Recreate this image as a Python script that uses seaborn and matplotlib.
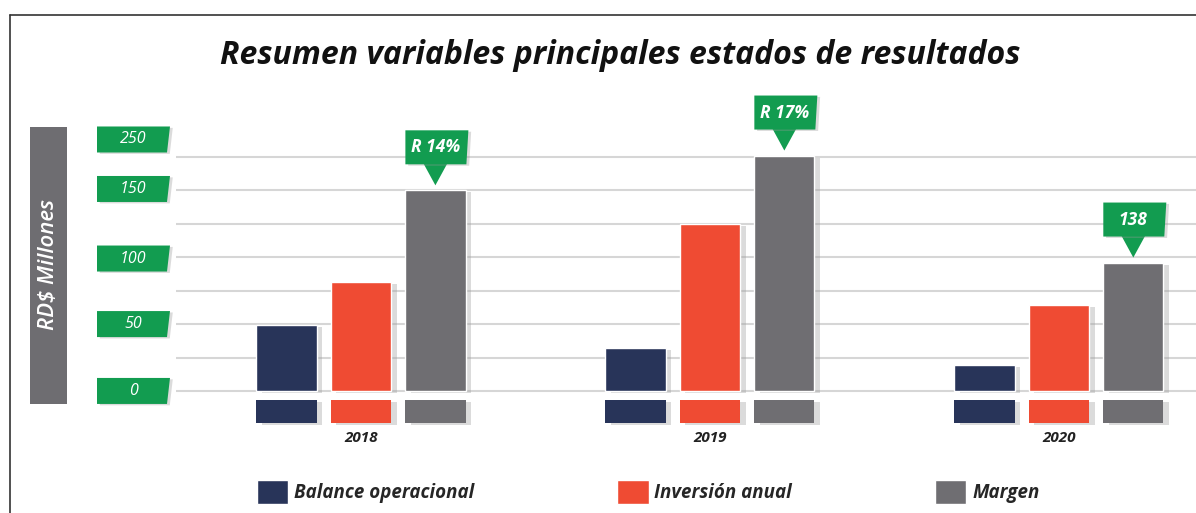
import numpy as np
import pandas as pd
import matplotlib.pyplot as plt
import seaborn as sns
from matplotlib.patches import Polygon, Rectangle
from matplotlib.transforms import IdentityTransform
from matplotlib.lines import Line2D
import matplotlib.patheffects as pe

# datos (RD$ millones)
years = ['2018', '2019', '2020']
balance = [49, 32, 19.5]
inversion = [81.5, 125, 64.5]
margen = [150, 176, 96]
callouts = ['R 14%', 'R 17%', '138']
series = ['Balance operacional', 'Inversión anual', 'Margen']
ytick_text = ['0', '50', '100', '150', '250']
ytick_at = [0, 50, 99, 151, 188]   # donde aparecen las etiquetas en la imagen
grid_vals = np.arange(0, 176, 25)

colors = ['#283459', '#ef4b33', '#6f6e72']
green = '#129c50'

df = pd.DataFrame({
    'Año': years * 3,
    'valor': balance + inversion + margen,
    'variable': np.repeat(series, 3),
})

sns.set_style('white')
plt.rcParams['font.family'] = ['Open Sans', 'DejaVu Sans']

W, H = 1196, 513
fig = plt.figure(figsize=(W / 100, H / 100), dpi=100)
ax = fig.add_axes([176 / W, (H - 430) / H, 1 - 176 / W, 340 / H])

sns.barplot(data=df, x='Año', y='valor', hue='variable', palette=colors,
            saturation=1, width=0.64, gap=0.19, ax=ax)
ax.set_xlim(-0.53, 2.393)
ax.set_ylim(-29.2, 225)

shadow = [pe.SimplePatchShadow(offset=(4, -1.5), shadow_rgbFace='#9a9a9a', alpha=0.35), pe.Normal()]

# bases de color bajo cada barra
for cont in ax.containers:
    for p in cont:
        p.set_path_effects(shadow)
        base = Rectangle((p.get_x(), -24), p.get_width(), 17.3,
                         facecolor=p.get_facecolor(), edgecolor='none',
                         path_effects=shadow)
        ax.add_patch(base)

sns.despine(ax=ax, left=True, bottom=True)
ax.set_yticks(grid_vals)
ax.set_yticklabels([])
ax.yaxis.grid(True, color='#d6d6d6', lw=1.5)
ax.set_axisbelow(True)
ax.tick_params(axis='y', length=0)
ax.tick_params(axis='x', length=0, pad=1)
for lab in ax.get_xticklabels():
    lab.set_fontsize(11)
    lab.set_fontweight('bold')
    lab.set_fontstyle('italic')
    lab.set_color('#222222')
ax.set_xlabel('')
ax.set_ylabel('')

handles, labels = ax.get_legend_handles_labels()
ax.get_legend().remove()

# llamadas verdes sobre las barras de Margen
for p, txt in zip(ax.containers[2], callouts):
    cx, top = ax.transData.transform((p.get_x() + p.get_width() / 2, p.get_height()))
    tip = top + 5
    tri = Polygon([(cx, tip), (cx - 12, tip + 22), (cx + 12, tip + 22)],
                  closed=True, facecolor=green, edgecolor='none', transform=IdentityTransform())
    box = Polygon([(cx - 30, tip + 21), (cx + 31, tip + 21), (cx + 33, tip + 55), (cx - 30, tip + 55)],
                  closed=True, facecolor=green, edgecolor='none', transform=IdentityTransform(),
                  path_effects=[pe.SimplePatchShadow(offset=(2, -1), shadow_rgbFace='#999999', alpha=0.35), pe.Normal()])
    fig.add_artist(tri)
    fig.add_artist(box)
    fig.text(cx / W, (tip + 38) / H, txt, color='white', fontsize=12.5, fontweight='bold',
             fontstyle='italic', ha='center', va='center')

# etiquetas del eje y en cajas verdes
for val, txt in zip(ytick_at, ytick_text):
    _, cy = ax.transData.transform((0, val))
    box = Polygon([(97, cy - 13), (167, cy - 13), (170, cy + 13), (97, cy + 13)],
                  closed=True, facecolor=green, edgecolor='none', transform=IdentityTransform(),
                  path_effects=[pe.SimplePatchShadow(offset=(2, -1), shadow_rgbFace='#999999', alpha=0.35), pe.Normal()])
    fig.add_artist(box)
    fig.text(133 / W, cy / H, txt, color='white', fontsize=11.5, fontstyle='italic',
             ha='center', va='center')

# caja gris del titulo del eje
fig.add_artist(Rectangle((30 / W, (H - 404) / H), 37 / W, 277 / H, transform=fig.transFigure,
                         facecolor='#6e6d71', edgecolor='none'))
fig.text(48.5 / W, (H - 265) / H, 'RD$ Millones', rotation=90, color='white', fontsize=16,
         fontstyle='italic', fontweight='semibold', ha='center', va='center')

fig.text(620 / W, (H - 55) / H, 'Resumen variables principales estados de resultados',
         fontsize=23, fontweight='bold', fontstyle='italic', color='#111111',
         ha='center', va='center')

# marco
fig.add_artist(Line2D([10 / W, 1], [(H - 15) / H] * 2, transform=fig.transFigure, color='#333333', lw=1.2))
fig.add_artist(Line2D([10 / W] * 2, [0, (H - 15) / H], transform=fig.transFigure, color='#333333', lw=1.2))

fig.legend(handles, labels, loc='center', bbox_to_anchor=(648 / W, (H - 492) / H), ncol=3,
           frameon=False, prop={'size': 13.5, 'weight': 'bold', 'style': 'italic'},
           handlelength=1.7, handleheight=1.6, handletextpad=0.3, columnspacing=7.6)

fig.savefig('out.png', dpi=100)
